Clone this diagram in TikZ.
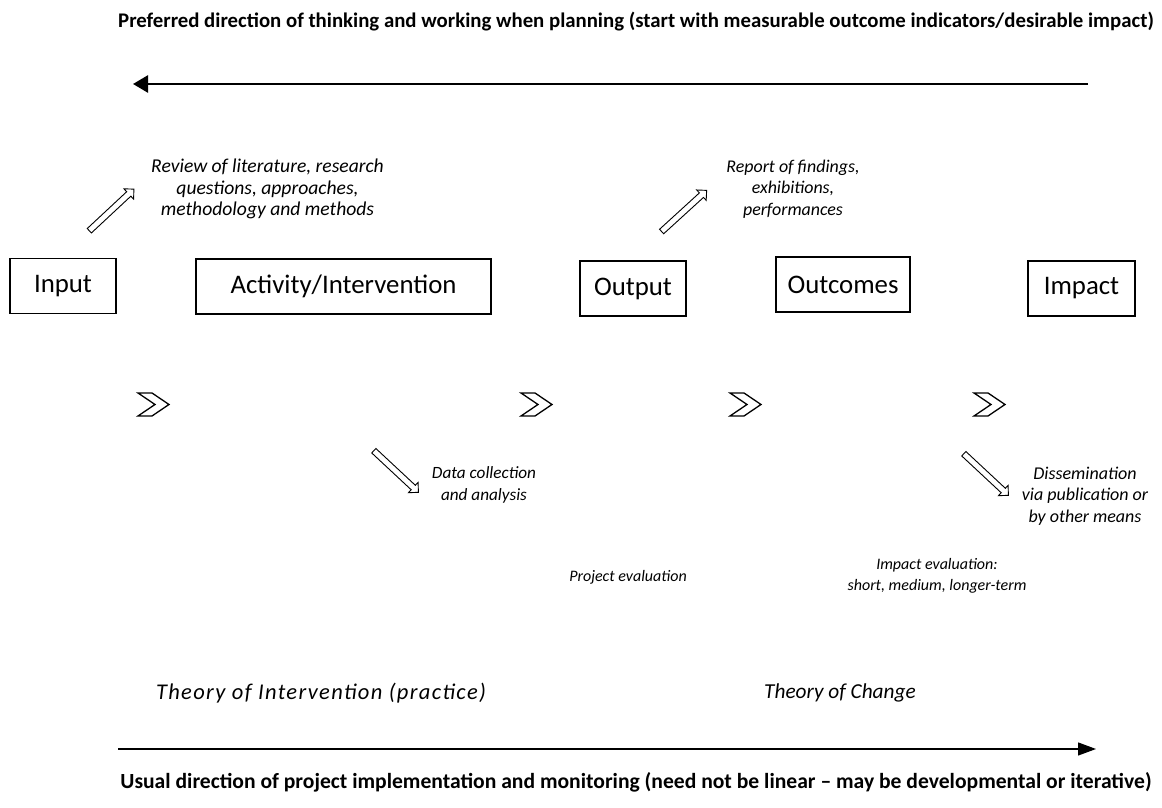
\documentclass[tikz,border=0pt]{standalone}
\usepackage{fontspec}
\setmainfont{Carlito}
\usetikzlibrary{arrows.meta,shapes.arrows}
\begin{document}
\begin{tikzpicture}[x=1pt,y=1pt,
  stagebox/.style={draw,line width=1.3pt,minimum height=55pt,inner sep=0pt,font=\fontsize{26.8}{30}\selectfont},
  note/.style={align=center,font=\fontsize{#1}{21.5}\selectfont\itshape,inner sep=0pt},
  note/.default=16,
  theory/.style={font=\fontsize{#1}{24}\selectfont\itshape,inner sep=0pt},
  heading/.style={font=\fontsize{#1}{22}\selectfont\bfseries,inner sep=0pt},
  hollow/.style={single arrow,draw,line width=0.9pt,minimum width=14pt,inner sep=2.6pt,
    single arrow head extend=4pt,minimum height=61pt},
  chev/.pic={\draw[line width=1.3pt,line join=miter] (0,0) -- (14,0) -- (31,-11.5) -- (14,-23) -- (0,-23) -- (17,-11.5) -- cycle;}
]
\useasboundingbox (0,0) rectangle (1162,808);

% headings
\node[heading=20.8] (plan) at (636,786) {Preferred direction of thinking and working when planning (start with measurable outcome indicators/desirable impact)};
\node[heading=21.6] (impl) at (636,26) {Usual direction of project implementation and monitoring (need not be linear -- may be developmental or iterative)};

% direction arrows
\coordinate (planR) at (1088,724);
\coordinate (planL) at (133,724);
\draw[line width=2.6pt,-{Triangle[length=15pt,width=17pt]}] (planR) -- (planL);
\coordinate (implL) at (118,59);
\coordinate (implR) at (1096,59);
\draw[line width=1.3pt,-{Triangle[length=18pt,width=13pt]}] (implL) -- (implR);

% stages
\node[stagebox,minimum width=106pt] (input) at (63,522) {Input};
\node[stagebox,minimum width=295pt] (activity) at (343.5,521.5) {Activity/Intervention};
\node[stagebox,minimum width=106pt] (output) at (633,519.5) {Output};
\node[stagebox,minimum width=134pt] (outcomes) at (843,523.5) {Outcomes};
\node[stagebox,minimum width=107pt] (impact) at (1081.5,519.5) {Impact};

% chevrons between the stages
\pic at (138,415) {chev};
\pic at (521,415) {chev};
\pic at (730,415) {chev};
\pic at (974,415) {chev};

% hollow arrows
\node[hollow,rotate=43] (h1) at (110.5,597) {};
\node[hollow,rotate=42.4] (h2) at (683,596) {};
\node[hollow,rotate=-43] (h3) at (395,337.5) {};
\node[hollow,rotate=-43] (h4) at (985,334.5) {};

% notes
\node[note=19.6] (review) at (267.5,619) {Review of literature, research\\questions, approaches,\\methodology and methods};
\node[note=17.9] (report) at (793,619) {Report of findings,\\exhibitions,\\performances};
\node[note=17.2] (data) at (484,323) {Data collection\\and analysis};
\node[note=18] (dissem) at (1085,312) {Dissemination\\via publication or\\by other means};
\node[note] (projeval) at (628,231) {Project evaluation};
\node[note] (impeval) at (937,232) {Impact evaluation:\\short, medium, longer-term};

% theories
\node[theory=22.5] (toi) at (321,115) {\addfontfeature{LetterSpace=6}Theory of Intervention (practice)};
\node[theory=21.3] (toc) at (840,115) {Theory of Change};
\end{tikzpicture}
\end{document}
